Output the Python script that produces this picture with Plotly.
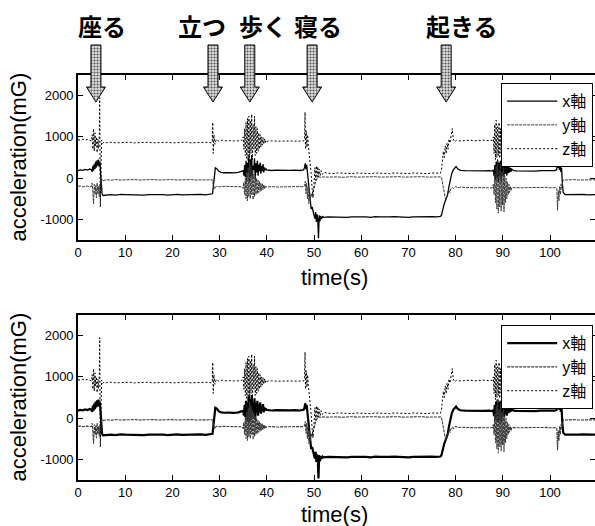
import plotly.graph_objects as go

# ---------------- data ----------------
SERIES_NAMES = ["x軸", "y軸", "z軸"]

X_AXIS = [
    (0, 180), (0.5, 200), (1, 190), (1.5, 210), (2, 195), (2.5, 220), (2.9, 200),
    (3.0, 150), (3.15, 300), (3.3, 180), (3.45, 350), (3.6, 220), (3.75, 400), (3.9, 260),
    (4.05, 430), (4.2, 300), (4.35, 450), (4.5, 280), (4.65, 380), (4.8, 100), (4.95, -250),
    (5.1, -380), (5.3, -420),
    (6, -405), (7, -400), (8, -410), (9, -395), (10, -400), (11, -405), (12, -395), (13, -400),
    (14, -410), (15, -400), (16, -395), (17, -405), (18, -400), (19, -410), (20, -400),
    (21, -395), (22, -405), (23, -400), (24, -410), (25, -400), (26, -395), (27, -405),
    (28, -390), (28.5, -380),
    (28.8, -60), (29.1, 250), (29.4, 230), (29.8, 170), (30.3, 140), (31, 130), (32, 135),
    (33, 125), (34, 140), (34.6, 170),
    (35.0, 180), (35.15, 60), (35.3, 320), (35.45, 20), (35.6, 420), (35.75, -60), (35.9, 380),
    (36.05, 120), (36.2, 520), (36.35, -100), (36.5, 460), (36.65, 40), (36.8, 560), (36.95, 0),
    (37.1, 300), (37.25, 200), (37.4, 480), (37.55, -40), (37.7, 360), (37.85, 140), (38.0, 420),
    (38.15, 60), (38.3, 330), (38.45, 160), (38.6, 380), (38.75, 110), (38.9, 300), (39.05, 170),
    (39.2, 340), (39.35, 140), (39.5, 260), (39.65, 190), (39.8, 230), (39.95, 200),
    (40.3, 190), (41, 185), (42, 195), (43, 190), (44, 185), (45, 190), (46, 195), (47, 185),
    (47.8, 200),
    (48.0, 260), (48.15, 360), (48.3, 220), (48.45, 320), (48.6, 150), (48.8, -50), (49.0, -350),
    (49.2, -600), (49.4, -750), (49.6, -700), (49.8, -850), (50.0, -900), (50.2, -980),
    (50.35, -820), (50.5, -1060), (50.65, -880), (50.8, -1000), (50.95, -1460), (51.1, -900),
    (51.25, -1050), (51.4, -920), (51.6, -990), (51.8, -930), (52, -950),
    (53, -940), (54, -945), (55, -935), (56, -940), (57, -950), (58, -940), (59, -935),
    (60, -945), (61, -940), (62, -950), (63, -935), (64, -940), (65, -945), (66, -940),
    (67, -935), (68, -945), (69, -940), (70, -950), (71, -940), (72, -935), (73, -945),
    (74, -940), (75, -935), (76, -940), (76.8, -930),
    (77.0, -900), (77.2, -800), (77.4, -650), (77.6, -620), (77.8, -560), (78.0, -500),
    (78.3, -400), (78.6, -200), (78.9, 0), (79.2, 120), (79.5, 200), (79.8, 240), (80.1, 280),
    (80.5, 220), (81, 190), (82, 180), (83, 175), (84, 180), (85, 170), (86, 175), (87, 180),
    (87.8, 170),
    (88.0, 200), (88.15, 50), (88.3, 320), (88.45, -60), (88.6, 400), (88.75, 0), (88.9, 450),
    (89.05, -100), (89.2, 380), (89.35, 40), (89.5, 420), (89.65, -80), (89.8, 360), (89.95, 60),
    (90.1, 400), (90.25, 20), (90.4, 330), (90.55, 100), (90.7, 350), (90.85, 60), (91.0, 300),
    (91.15, 120), (91.3, 280), (91.45, 140), (91.6, 250), (91.75, 160), (91.9, 220),
    (92.3, 180), (93, 175), (94, 170), (95, 180), (96, 175), (97, 170), (98, 180), (99, 175),
    (100, 170), (101, 180), (101.4, 200),
    (101.55, 320), (101.7, 250), (101.85, 420), (102.0, 200), (102.15, 380), (102.3, 150),
    (102.45, 250), (102.6, -100), (102.8, -350), (103.2, -400), (104, -395), (105, -405),
    (106, -400), (107, -395), (108, -405), (109, -400), (110, -400),
]

Y_AXIS = [
    (0, -200), (0.5, -190), (1, -210), (1.5, -200), (2, -195), (2.5, -210), (2.9, -200),
    (3.0, -120), (3.15, -350), (3.3, -620), (3.45, -150), (3.6, -400), (3.75, -180), (3.9, -480),
    (4.05, -120), (4.2, -380), (4.35, -200), (4.5, -450), (4.65, -150), (4.8, -300), (4.95, -80),
    (5.1, -30), (5.3, -60),
    (6, -40), (7, -50), (8, -35), (9, -45), (10, -40), (11, -50), (12, -35), (13, -45),
    (14, -40), (15, -50), (16, -35), (17, -45), (18, -40), (19, -50), (20, -35), (21, -45),
    (22, -40), (23, -50), (24, -35), (25, -45), (26, -40), (27, -50), (28, -45), (28.4, -40),
    (28.6, -120), (28.9, -260), (29.3, -200), (30, -210), (31, -200), (32, -205), (33, -195),
    (34, -205), (34.7, -210),
    (35.0, -250), (35.15, -100), (35.3, -400), (35.45, 0), (35.6, -500), (35.75, 150),
    (35.9, -550), (36.05, 250), (36.2, -450), (36.35, 400), (36.5, -500), (36.65, 300),
    (36.8, -400), (36.95, 200), (37.1, -520), (37.25, 100), (37.4, -450), (37.55, 50),
    (37.7, -400), (37.85, 0), (38.0, -380), (38.15, -50), (38.3, -350), (38.45, -80),
    (38.6, -320), (38.75, -120), (38.9, -300), (39.05, -140), (39.2, -280), (39.35, -160),
    (39.5, -260), (39.65, -180), (39.8, -230), (39.95, -210),
    (40.5, -210), (41, -205), (42, -215), (43, -210), (44, -205), (45, -215), (46, -210),
    (47, -205), (47.8, -210),
    (48.0, -180), (48.15, -80), (48.3, -380), (48.45, -120), (48.6, -500), (48.75, -200),
    (48.9, -620), (49.05, -300), (49.2, -550), (49.4, -380), (49.6, -450), (49.8, -300),
    (50.0, -250), (50.2, -150), (50.4, -60), (50.6, -20), (50.8, 10), (51.0, 30), (51.5, 20),
    (52, 30),
    (53, 25), (54, 35), (55, 30), (56, 20), (57, 30), (58, 35), (59, 25), (60, 30), (61, 20),
    (62, 30), (63, 35), (64, 25), (65, 30), (66, 20), (67, 30), (68, 35), (69, 25), (70, 30),
    (71, 20), (72, 30), (73, 35), (74, 25), (75, 30), (76, 20), (76.8, 30),
    (77.0, 20), (77.2, -80), (77.4, -200), (77.6, -350), (77.8, -480), (78.0, -520),
    (78.2, -430), (78.4, -380), (78.6, -300), (78.8, -350), (79.0, -260), (79.3, -220),
    (79.6, -250), (80, -200), (80.5, -230), (81, -220), (82, -230), (83, -225), (84, -235),
    (85, -230), (86, -225), (87, -235), (87.8, -235),
    (88.0, -150), (88.15, -400), (88.3, 100), (88.45, -600), (88.6, 300), (88.75, -750),
    (88.9, 450), (89.05, -850), (89.2, 200), (89.35, -700), (89.5, 350), (89.65, -800),
    (89.8, 150), (89.95, -650), (90.1, 250), (90.25, -820), (90.4, 50), (90.55, -600),
    (90.7, 0), (90.85, -500), (91.0, -100), (91.15, -400), (91.3, -150), (91.45, -350),
    (91.6, -200), (91.75, -300), (91.9, -230),
    (92.3, -230), (93, -225), (94, -235), (95, -230), (96, -225), (97, -235), (98, -230),
    (99, -225), (100, -235), (101, -230), (101.3, -230),
    (101.45, -260), (101.6, -780), (101.75, -300), (101.9, -550), (102.05, -200),
    (102.2, -400), (102.35, -150), (102.5, -250), (102.7, -80), (102.9, -40), (103.5, -45),
    (104, -40), (105, -35), (106, -45), (107, -40), (108, -35), (109, -45), (110, -40),
]

Z_AXIS = [
    (0, 930), (0.5, 920), (1, 940), (1.5, 925), (2, 935), (2.5, 920), (2.9, 900),
    (3.0, 1050), (3.15, 700), (3.3, 1200), (3.45, 650), (3.6, 1100), (3.75, 780), (3.9, 1000),
    (4.05, 620), (4.2, 950), (4.35, 720), (4.5, 1000), (4.6, 1950), (4.72, -700), (4.85, 780),
    (5.0, 920), (5.2, 840), (5.5, 870),
    (6, 860), (7, 870), (8, 855), (9, 865), (10, 860), (11, 870), (12, 855), (13, 865),
    (14, 860), (15, 870), (16, 855), (17, 865), (18, 860), (19, 870), (20, 855), (21, 865),
    (22, 860), (23, 870), (24, 855), (25, 865), (26, 860), (27, 870), (28, 860), (28.3, 860),
    (28.45, 900), (28.55, 1350), (28.65, 600), (28.8, 1050), (29.0, 820), (29.3, 940),
    (29.8, 900), (30.5, 920), (31, 900), (32, 910), (33, 900), (34, 915), (34.7, 910),
    (35.0, 1000), (35.15, 700), (35.3, 1200), (35.45, 550), (35.6, 1350), (35.75, 450),
    (35.9, 1450), (36.05, 400), (36.2, 1500), (36.35, 500), (36.5, 1400), (36.65, 600),
    (36.8, 1550), (36.95, 450), (37.1, 1300), (37.25, 700), (37.4, 1500), (37.55, 550),
    (37.7, 1250), (37.85, 600), (38.0, 1200), (38.15, 650), (38.3, 1100), (38.45, 700),
    (38.6, 1050), (38.75, 750), (38.9, 1000), (39.05, 800), (39.2, 980), (39.35, 820),
    (39.5, 950), (39.65, 860), (39.8, 920), (39.95, 890),
    (40.5, 900), (41, 905), (42, 895), (43, 900), (44, 910), (45, 900), (46, 895), (47, 905),
    (47.8, 900),
    (48.0, 950), (48.1, 1600), (48.2, 700), (48.35, 1150), (48.5, 750), (48.65, 1050),
    (48.8, 800), (49.0, 600), (49.2, 350), (49.4, 100), (49.6, -250), (49.8, -480),
    (50.0, -150), (50.2, 250), (50.35, -50), (50.5, 300), (50.65, 0), (50.8, 280), (50.95, 30),
    (51.1, 220), (51.3, 60), (51.5, 180), (51.8, 90), (52.2, 140),
    (53, 120), (54, 110), (55, 125), (56, 115), (57, 120), (58, 110), (59, 125), (60, 115),
    (61, 120), (62, 110), (63, 125), (64, 115), (65, 120), (66, 110), (67, 125), (68, 115),
    (69, 120), (70, 110), (71, 125), (72, 115), (73, 120), (74, 110), (75, 125), (76, 115),
    (76.8, 120),
    (77.0, 200), (77.2, 400), (77.4, 650), (77.6, 500), (77.8, 780), (78.0, 600), (78.2, 850),
    (78.4, 700), (78.6, 950), (78.8, 850), (79.0, 1050), (79.3, 1200), (79.5, 950),
    (79.8, 880), (80.2, 920), (81, 900), (82, 910), (83, 920), (84, 905), (85, 915),
    (86, 920), (87, 910), (87.8, 920),
    (88.0, 1000), (88.15, 600), (88.3, 1300), (88.45, 450), (88.6, 1400), (88.75, 500),
    (88.9, 1250), (89.05, 550), (89.2, 1350), (89.35, 480), (89.5, 1200), (89.65, 600),
    (89.8, 1300), (89.95, 650), (90.1, 1150), (90.25, 700), (90.4, 1100), (90.55, 750),
    (90.7, 1050), (90.85, 800), (91.0, 1000), (91.15, 850), (91.3, 980), (91.45, 880),
    (91.6, 950), (91.75, 900), (91.9, 920),
    (92.3, 920), (94, 910), (96, 920), (98, 915), (100, 920), (101.3, 920),
    (101.5, 1100), (101.7, 700), (101.9, 1050), (102.1, 800), (102.4, 950), (102.8, 900),
    (103.5, 910), (105, 905), (107, 915), (110, 910),
]

EVENT_LABELS = ["座る", "立つ", "歩く", "寝る", "起きる"]
EVENT_TIMES = [3.8, 28.6, 36.4, 49.6, 78.0]

X_TICKS = [0, 10, 20, 30, 40, 50, 60, 70, 80, 90, 100]
Y_TICKS = [2000, 1000, 0, -1000]
Y_TICK_TEXT = ["2000", "1000", "0", "-1000"]

# ---------------- layout geometry (pixels of the 595x526 page) ----------------
W, H = 595, 526
PX_PER_SEC = 4.72
X_LEFT = 78
x_dom = [X_LEFT / W, 1.0]
x_rng = [0, (W - X_LEFT) / PX_PER_SEC]
top_dom = [1 - 240 / H, 1 - 75 / H]
bot_dom = [1 - 480 / H, 1 - 315 / H]
y_rng = [-1500, 2500]

FONT = "Liberation Sans, Noto Sans CJK JP, sans-serif"
JP_FONT = "Noto Sans CJK JP, sans-serif"

fig = go.Figure()

styles_top = [
    dict(color="black", width=1.3),
    dict(color="#3a3a3a", width=1, dash="3px,1px"),
    dict(color="black", width=1, dash="2px,2px"),
]
styles_bot = [
    dict(color="black", width=2.2),
    dict(color="#3a3a3a", width=1.1, dash="3px,1px"),
    dict(color="black", width=1, dash="2px,2px"),
]

for data, name, st_t, st_b in zip([X_AXIS, Y_AXIS, Z_AXIS], SERIES_NAMES, styles_top, styles_bot):
    t = [p[0] for p in data]
    v = [p[1] for p in data]
    fig.add_trace(go.Scatter(x=t, y=v, mode="lines", name=name, line=st_t,
                             xaxis="x", yaxis="y", legend="legend", hoverinfo="skip"))
    fig.add_trace(go.Scatter(x=t, y=v, mode="lines", name=name, line=st_b,
                             xaxis="x2", yaxis="y2", legend="legend2", hoverinfo="skip"))

# event arrows (fat stippled down arrows) built from the event times
SHAFT_HALF = 5 / PX_PER_SEC
HEAD_HALF = 9.5 / PX_PER_SEC
ARROW_TOP, ARROW_SHOULDER, ARROW_TIP = 45, 87, 102
ax, ay = [], []
for t in EVENT_TIMES:
    ax += [t - SHAFT_HALF, t + SHAFT_HALF, t + SHAFT_HALF, t + HEAD_HALF, t,
           t - HEAD_HALF, t - SHAFT_HALF, t - SHAFT_HALF, None]
    ay += [ARROW_TOP, ARROW_TOP, ARROW_SHOULDER, ARROW_SHOULDER, ARROW_TIP,
           ARROW_SHOULDER, ARROW_SHOULDER, ARROW_TOP, None]
fig.add_trace(go.Scatter(x=ax, y=ay, mode="lines", fill="toself", showlegend=False,
                         line=dict(color="black", width=1),
                         fillcolor="#d8d8d8",
                         fillpattern=dict(shape=".", fgcolor="#555555", bgcolor="#e0e0e0",
                                          size=3, solidity=0.4),
                         xaxis="x3", yaxis="y3", hoverinfo="skip"))

axis_common = dict(showline=True, linecolor="black", linewidth=1.6, mirror="ticks",
                   ticks="inside", ticklen=5, tickwidth=1.2, tickcolor="black",
                   showgrid=False, zeroline=False, automargin=False,
                   tickfont=dict(family=FONT, size=13, color="black"))

legend_common = dict(bgcolor="white", bordercolor="black", borderwidth=1.2,
                     font=dict(family=FONT, size=16, color="black"), itemwidth=50,
                     tracegroupgap=0, x=593 / W, xanchor="right", yanchor="top")

fig.update_layout(
    template="none",
    width=W, height=H, autosize=False,
    margin=dict(l=0, r=0, t=0, b=0, pad=0),
    paper_bgcolor="white", plot_bgcolor="rgba(0,0,0,0)",
    showlegend=True,
    xaxis=dict(axis_common, domain=x_dom, range=x_rng, anchor="y", tickvals=X_TICKS),
    yaxis=dict(axis_common, domain=top_dom, range=y_rng, anchor="x",
               tickvals=Y_TICKS, ticktext=Y_TICK_TEXT),
    xaxis2=dict(axis_common, domain=x_dom, range=x_rng, anchor="y2", tickvals=X_TICKS),
    yaxis2=dict(axis_common, domain=bot_dom, range=y_rng, anchor="x2",
                tickvals=Y_TICKS, ticktext=Y_TICK_TEXT),
    xaxis3=dict(domain=x_dom, range=x_rng, anchor="y3", visible=False, fixedrange=True,
                automargin=False, showgrid=False, zeroline=False),
    yaxis3=dict(domain=[1 - 104 / H, 1 - 44 / H], range=[104, 44], anchor="x3",
                visible=False, fixedrange=True, automargin=False, showgrid=False,
                zeroline=False),
    legend=dict(legend_common, y=1 - 83 / H),
    legend2=dict(legend_common, y=1 - 325 / H),
)

annotations = []
# axis titles
for dom in (top_dom, bot_dom):
    annotations.append(dict(text="acceleration(mG)", xref="paper", yref="paper",
                            x=18 / W, y=(dom[0] + dom[1]) / 2, showarrow=False,
                            xanchor="center", yanchor="middle",
                            textangle=-90, font=dict(family=FONT, size=22, color="black")))
for ypx in (277, 514):
    annotations.append(dict(text="time(s)", xref="paper", yref="paper",
                            x=334 / W, y=1 - ypx / H, showarrow=False,
                            xanchor="center", yanchor="middle",
                            font=dict(family=FONT, size=22, color="black")))
# event labels above the arrows
LABEL_X_PX = [102, 202, 263, 318, 462]
for lab, xp in zip(EVENT_LABELS, LABEL_X_PX):
    annotations.append(dict(text="<b>" + lab + "</b>", xref="paper", yref="paper",
                            x=xp / W, y=1 - 25 / H, showarrow=False,
                            xanchor="center", yanchor="middle",
                            font=dict(family=JP_FONT, size=24, color="black")))
fig.update_layout(annotations=annotations)

fig.write_html("out.html", config={"responsive": False, "displayModeBar": False},
               post_script="document.body.style.margin='0';document.body.style.padding='0';")
